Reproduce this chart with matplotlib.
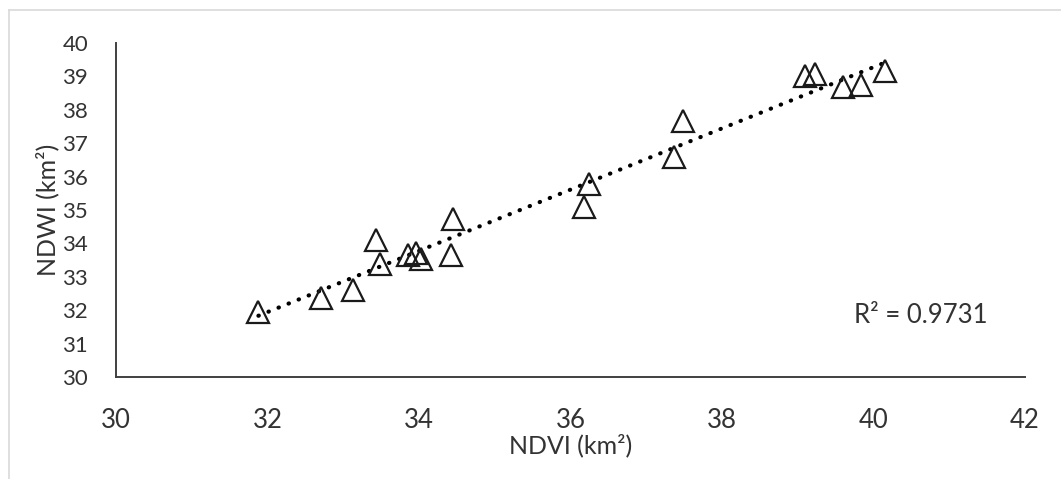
import numpy as np
import matplotlib
matplotlib.use("Agg")
import matplotlib.pyplot as plt
from matplotlib.lines import Line2D

plt.rcParams['font.family'] = ['Lato', 'DejaVu Sans']

# Data
ndvi = [31.88, 32.71, 33.13, 33.43, 33.48, 33.85, 33.96, 34.02, 34.42, 34.45,
        36.18, 36.25, 37.36, 37.49, 39.10, 39.23, 39.60, 39.84, 40.15]
ndwi = [31.95, 32.36, 32.59, 34.09, 33.38, 33.66, 33.72, 33.53, 33.64, 34.72,
        35.09, 35.79, 36.59, 37.66, 39.01, 39.06, 38.67, 38.74, 39.16]
x_ticks = [30, 32, 34, 36, 38, 40, 42]
y_ticks = [30, 31, 32, 33, 34, 35, 36, 37, 38, 39, 40]
r2_text = "R² = 0.9731"

x = np.array(ndvi)
y = np.array(ndwi)

txt = '#333333'

fig = plt.figure(figsize=(10.61, 4.79), dpi=100)
fig.patch.set_facecolor('white')

# outer light border (chart area frame)
fig.add_artist(Line2D([9/1061, 9/1061], [0, 1 - 10/479], transform=fig.transFigure,
                      color='#d9d9d9', lw=1.2))
fig.add_artist(Line2D([9/1061, 1], [1 - 10/479, 1 - 10/479], transform=fig.transFigure,
                      color='#d9d9d9', lw=1.2))

ax = fig.add_axes([116/1061, 1 - 377/479, (1025 - 116)/1061, (377 - 43)/479])

# trendline
coef = np.polyfit(x, y, 1)
xs = np.linspace(x.min(), x.max(), 50)
ax.plot(xs, np.polyval(coef, xs), color='black', lw=3,
        linestyle=(0, (0.1, 2.5)), dash_capstyle='round', zorder=2)

ax.plot(x, y, linestyle='none', marker='^', markersize=15.5,
        markerfacecolor='none', markeredgecolor='#1a1a1a', markeredgewidth=1.6, zorder=3)

ax.set_xlim(30, 42)
ax.set_ylim(30, 40)
ax.set_xticks(x_ticks)
ax.set_yticks(y_ticks)

for s in ['top', 'right']:
    ax.spines[s].set_visible(False)
for s in ['left', 'bottom']:
    ax.spines[s].set_color('#404040')
    ax.spines[s].set_linewidth(1.4)

ax.tick_params(axis='both', length=0, colors=txt)
ax.tick_params(axis='x', labelsize=18.5, pad=22)
ax.tick_params(axis='y', labelsize=16, pad=20)
for lab in ax.get_xticklabels() + ax.get_yticklabels():
    lab.set_color(txt)

ax.set_xlabel("NDVI (km²)", fontsize=18, color=txt, labelpad=1)
ax.set_ylabel("NDWI (km²)", fontsize=18, color=txt, labelpad=2)

ax.text(0.812, 0.185, r2_text, transform=ax.transAxes, fontsize=18.5,
        color=txt, ha='left', va='center')

fig.savefig("out.png", dpi=100, facecolor='white')
